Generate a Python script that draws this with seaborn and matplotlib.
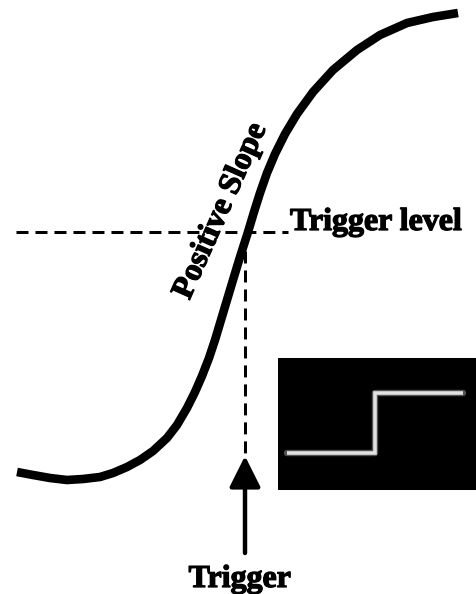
import numpy as np
import pandas as pd
import matplotlib
matplotlib.use("Agg")
import matplotlib.pyplot as plt
import matplotlib.patheffects as pe
import seaborn as sns
from matplotlib.patches import FancyArrowPatch

# ---- data (pixel-like diagram coordinates, y grows downward) ----
curve_x = [17, 33, 50, 67, 83, 100, 113, 127, 140, 153, 167, 177, 187, 195,
           202, 209, 215, 221, 227, 233, 240, 248, 254, 260, 267, 275, 285,
           297, 313, 333, 357, 380, 407, 433, 458]
curve_y = [472, 475, 478, 480, 479, 477, 473, 467, 460, 451, 438, 425, 408,
           392, 376, 358, 340, 320, 300, 280, 257, 232, 212, 193, 173, 154,
           134, 114, 92, 70, 50, 35, 23, 17, 13]

trigger_level = 232          # horizontal dashed line level
level_x = [16, 288]          # extent of the level line
trigger_x = 245              # trigger instant
vline_y = [232, 453]         # extent of the vertical dashed line
arrow_y = [553, 456]         # arrow from bottom to tip

step_t = [0, 1, 2]           # inset step signal
step_v = [0, 1, 1]

label_level = "Trigger level"
label_trigger = "Trigger"
label_slope = "Positive Slope"

# ---- style ----
sns.set_theme(style="white")
plt.rcParams["font.family"] = ["Liberation Serif", "DejaVu Serif"]

fig = plt.figure(figsize=(4.76, 5.94), dpi=100)
fig.patch.set_facecolor("white")
ax = fig.add_axes([0, 0, 1, 1])
ax.set_xlim(0, 476)
ax.set_ylim(594, 0)
ax.axis("off")

# S-curve
df = pd.DataFrame({"x": curve_x, "y": curve_y})
sns.lineplot(data=df, x="x", y="y", sort=False, estimator=None, color="black",
             lw=6.2, ax=ax, solid_capstyle="butt", solid_joinstyle="round")

# dashed guide lines
ax.plot(level_x, [trigger_level, trigger_level], color="black", lw=2.16,
        linestyle=(0, (4, 2.33)), dash_capstyle="butt")
ax.plot([trigger_x, trigger_x], vline_y, color="black", lw=2.16,
        linestyle=(0, (4, 2.33)), dash_capstyle="butt")

# arrow
arr = FancyArrowPatch((trigger_x, arrow_y[0]), (trigger_x, arrow_y[1]),
                      arrowstyle="-|>,head_length=19,head_width=9.5",
                      mutation_scale=1, lw=3.2, color="black",
                      shrinkA=0, shrinkB=0)
ax.add_patch(arr)

# texts
heavy = [pe.withStroke(linewidth=0.9, foreground="black")]
ax.text(290, 230, label_level, fontsize=23, fontweight="bold", ha="left",
        va="baseline", color="black", path_effects=heavy)
ax.text(240, 587, label_trigger, fontsize=23, fontweight="bold", ha="center",
        va="baseline", color="black", path_effects=heavy)
ax.text(221, 211, label_slope, fontsize=23, fontweight="bold", ha="center",
        va="center", rotation=66, rotation_mode="anchor", color="black",
        path_effects=heavy)

# inset scope display
ins = fig.add_axes([278 / 476, 1 - 490 / 594, 198 / 476, 132 / 594])
ins.set_facecolor("black")
ins.set_xlim(-0.102, 2.148)
ins.set_ylim(-0.617, 1.583)
ins.set_xticks([])
ins.set_yticks([])
for s in ins.spines.values():
    s.set_visible(False)
sdf = pd.DataFrame({"t": step_t, "v": step_v})
sns.lineplot(data=sdf, x="t", y="v", estimator=None, drawstyle="steps-post",
             color="#8a8a8a", lw=4.6, alpha=0.6, ax=ins,
             solid_capstyle="round", solid_joinstyle="round")
sns.lineplot(data=sdf, x="t", y="v", estimator=None, drawstyle="steps-post",
             color="#e2e2e2", lw=2.6, ax=ins,
             solid_capstyle="butt", solid_joinstyle="miter")
ins.set_xlabel("")
ins.set_ylabel("")

fig.savefig("out.png", dpi=100, facecolor="white")
